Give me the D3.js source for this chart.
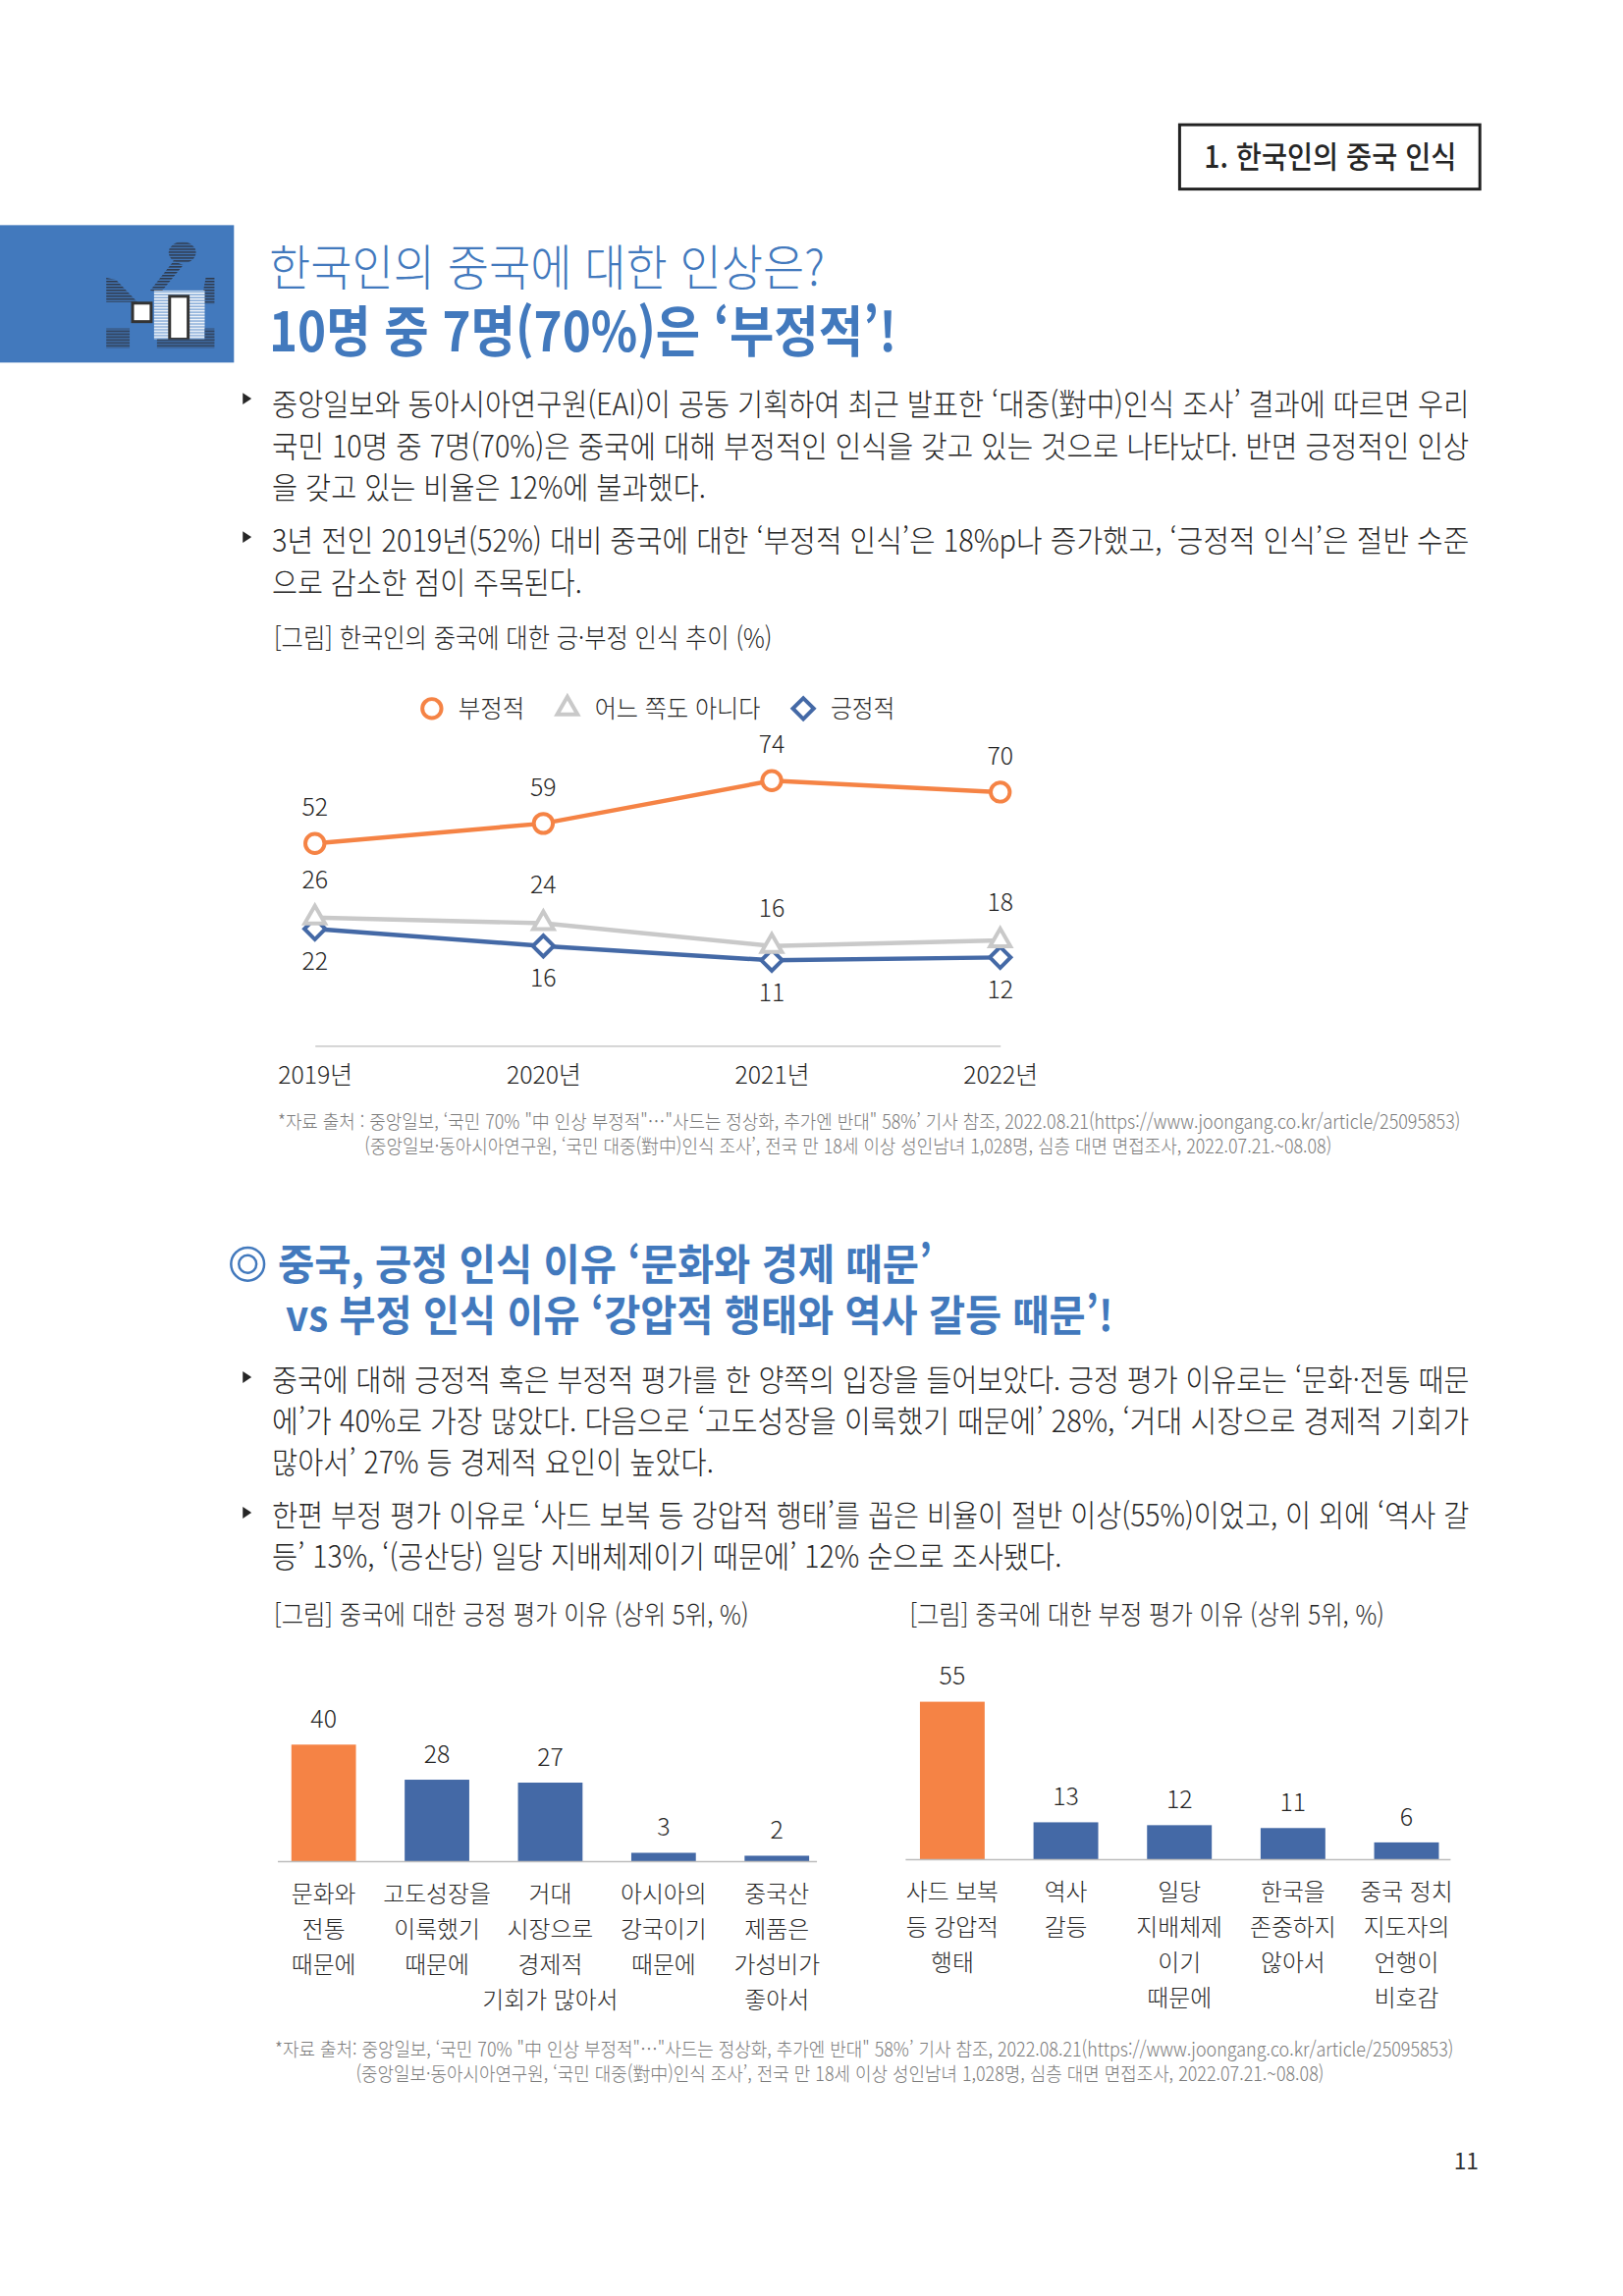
<![CDATA[<!DOCTYPE html>
<html lang="ko">
<head>
  <meta charset="UTF-8" />
  <script src="https://d3js.org/d3.v7.min.js"></script>
  <style>
    html, body { margin: 0; padding: 0; background: #fff; }
    svg { display: block; }
    text { font-family: "Noto Sans CJK KR", "Noto Sans", sans-serif; }
  </style>
</head>
<body>
  <div id="scene"></div>

  <script>
    // line chart data
    const years = ["2019년", "2020년", "2021년", "2022년"];
    const negative = [52, 59, 74, 70];
    const neutral = [26, 24, 16, 18];
    const positive = [22, 16, 11, 12];
    const legendLabels = ["부정적", "어느 쪽도 아니다", "긍정적"];

    // bar chart data
    const posReasons = [["문화와", "전통", "때문에"], ["고도성장을", "이룩했기", "때문에"], ["거대", "시장으로", "경제적", "기회가 많아서"], ["아시아의", "강국이기", "때문에"], ["중국산", "제품은", "가성비가", "좋아서"]];
    const posValues = [40, 28, 27, 3, 2];
    const negReasons = [["사드 보복", "등 강압적", "행태"], ["역사", "갈등"], ["일당", "지배체제", "이기", "때문에"], ["한국을", "존중하지", "않아서"], ["중국 정치", "지도자의", "언행이", "비호감"]];
    const negValues = [55, 13, 12, 11, 6];

    const ORANGE = "#f58345", GRAY = "#c9c9c9", BLUE = "#4469a6", TITLE = "#4279bd", INK = "#262626", NOTE = "#7a7a7a";

    const root = d3.select("#scene").append("svg").attr("width", 1653).attr("height", 2339);
    const svg = root.append("g").attr("transform", "scale(0.9929)");

    // one line of page text, squeezed to the width it has in the original
    function put(str, x, y, width, size, opts = {}) {
      const t = svg.append("text")
        .attr("x", x).attr("y", y)
        .attr("font-size", size)
        .attr("font-weight", opts.weight || 300)
        .attr("fill", opts.fill || INK)
        .attr("text-anchor", opts.anchor || "start")
        .text(str);
      if (width) t.attr("textLength", width).attr("lengthAdjust", "spacingAndGlyphs");
      return t;
    }

    function bullet(y) {
      svg.append("path").attr("d", d3.line()([[249, y - 6], [258, y], [249, y + 6]]) + "Z").attr("fill", INK);
    }

    // header
    svg.append("rect").attr("x", 1210).attr("y", 128).attr("width", 308).attr("height", 66)
      .attr("fill", "#fff").attr("stroke", "#222").attr("stroke-width", 3);
    put("1. 한국인의 중국 인식", 1235, 172, 259, 31, { weight: 500 });

    // blue tile + little icon
    svg.append("rect").attr("x", 0).attr("y", 231).attr("width", 240).attr("height", 141).attr("fill", TITLE);
    const defs = root.append("defs");
    const stripes = (id, c1, c2) => {
      const p = defs.append("pattern").attr("id", id).attr("width", 4).attr("height", 3).attr("patternUnits", "userSpaceOnUse");
      p.append("rect").attr("width", 4).attr("height", 3).attr("fill", c2);
      p.append("rect").attr("width", 4).attr("height", 1.6).attr("fill", c1);
    };
    stripes("darkS", "#2f3a4c", "#4279bd");
    stripes("lightS", "#ffffff", "#6f9bd0");
    svg.append("ellipse").attr("cx", 187).attr("cy", 259).attr("rx", 14).attr("ry", 11).attr("fill", "url(#darkS)");
    svg.append("path").attr("d", "M178,268 L188,272 L165,300 L154,298Z").attr("fill", "url(#darkS)");
    svg.append("path").attr("d", "M109,285 L119,287 L141,310 L109,310Z").attr("fill", "url(#darkS)");
    svg.append("path").attr("d", "M211,285 L220,284 L220,312 L206,312Z").attr("fill", "url(#darkS)");
    svg.append("rect").attr("x", 158).attr("y", 298).attr("width", 52).attr("height", 50).attr("fill", "url(#lightS)");
    svg.append("rect").attr("x", 174).attr("y", 304).attr("width", 19).attr("height", 44).attr("fill", "#fff").attr("stroke", "#333").attr("stroke-width", 3);
    svg.append("rect").attr("x", 136).attr("y", 311).attr("width", 19).attr("height", 19).attr("fill", "#fff").attr("stroke", "#333").attr("stroke-width", 3);
    svg.append("rect").attr("x", 109).attr("y", 337).attr("width", 24).attr("height", 20).attr("fill", "url(#darkS)");
    svg.append("rect").attr("x", 161).attr("y", 348).attr("width", 59).attr("height", 9).attr("fill", "url(#darkS)");
    svg.append("rect").attr("x", 210).attr("y", 337).attr("width", 10).attr("height", 12).attr("fill", "url(#darkS)");

    // titles
    put("한국인의 중국에 대한 인상은?", 276, 293, 570, 50, { fill: TITLE });
    put("10명 중 7명(70%)은 ‘부정적’!", 276, 361, 644, 56, { fill: TITLE, weight: 700 });

    // first text block
    bullet(409);
    put("중앙일보와 동아시아연구원(EAI)이 공동 기획하여 최근 발표한 ‘대중(對中)인식 조사’ 결과에 따르면 우리", 279, 426, 1228, 31);
    put("국민 10명 중 7명(70%)은 중국에 대해 부정적인 인식을 갖고 있는 것으로 나타났다. 반면 긍정적인 인상", 279, 469, 1228, 31);
    put("을 갖고 있는 비율은 12%에 불과했다.", 279, 512, 445, 31);
    bullet(551);
    put("3년 전인 2019년(52%) 대비 중국에 대한 ‘부정적 인식’은 18%p나 증가했고, ‘긍정적 인식’은 절반 수준", 279, 566, 1228, 31);
    put("으로 감소한 점이 주목된다.", 279, 609, 318, 31);
    put("[그림] 한국인의 중국에 대한 긍·부정 인식 추이 (%)", 281, 665, 511, 27);

    // line chart
    const x = d3.scalePoint().domain(years).range([323, 1026]);
    const y = d3.scaleLinear().domain([-19, 74]).range([1073, 801]);
    const lineGen = d3.line().x((d, i) => x(years[i])).y(d => y(d));

    const axisG = svg.append("g").attr("transform", "translate(0,1073)")
      .call(d3.axisBottom(x).tickSize(0).tickPadding(21));
    axisG.select(".domain").attr("stroke", "#bdbdbd").attr("stroke-width", 1.5);
    axisG.selectAll("text").attr("font-size", 25).attr("font-weight", 300).attr("fill", INK)
      .attr("font-family", '"Noto Sans CJK KR", sans-serif');

    const sym = (type, size) => d3.symbol().type(type).size(size)();
    const series = [
      { name: legendLabels[0], vals: negative, color: ORANGE, shape: sym(d3.symbolCircle, 300), rot: 0, label: -37 },
      { name: legendLabels[2], vals: positive, color: BLUE, shape: sym(d3.symbolSquare, 230), rot: 45, label: 33 },
      { name: legendLabels[1], vals: neutral, color: GRAY, shape: sym(d3.symbolTriangle, 190), rot: 0, label: -39 }
    ];

    series.forEach(s => {
      svg.append("path").datum(s.vals).attr("d", lineGen)
        .attr("fill", "none").attr("stroke", s.color).attr("stroke-width", 4.5);
      svg.append("g").selectAll("path").data(s.vals).enter().append("path")
        .attr("d", s.shape)
        .attr("transform", (d, i) => `translate(${x(years[i])},${y(d)}) rotate(${s.rot})`)
        .attr("fill", "#fff").attr("stroke", s.color).attr("stroke-width", 4);
      svg.append("g").selectAll("text").data(s.vals).enter().append("text")
        .attr("x", (d, i) => x(years[i]))
        .attr("y", d => y(d) + s.label)
        .attr("dy", "0.35em")
        .attr("text-anchor", "middle").attr("font-size", 25).attr("font-weight", 300).attr("fill", INK)
        .text(d => d);
    });

    // legend
    const legendItems = [
      { s: series[0], mx: 443, tx: 470, w: 68 },
      { s: series[2], mx: 582, tx: 610, w: 170 },
      { s: series[1], mx: 824, tx: 852, w: 66 }
    ];
    legendItems.forEach(it => {
      svg.append("path").attr("d", it.s.shape)
        .attr("transform", `translate(${it.mx},727) rotate(${it.s.rot})`)
        .attr("fill", "#fff").attr("stroke", it.s.color).attr("stroke-width", 4);
      put(it.s.name, it.tx, 736, it.w, 25, { weight: 300 });
    });

    // first source note
    put("*자료 출처 : 중앙일보, ‘국민 70% \"中 인상 부정적\"…\"사드는 정상화, 추가엔 반대\" 58%’ 기사 참조, 2022.08.21(https://www.joongang.co.kr/article/25095853)", 285, 1158, 1213, 20, { fill: NOTE });
    put("(중앙일보·동아시아연구원, ‘국민 대중(對中)인식 조사’, 전국 만 18세 이상 성인남녀 1,028명, 심층 대면 면접조사, 2022.07.21.~08.08)", 374, 1183, 992, 20, { fill: NOTE });

    // section heading
    svg.append("circle").attr("cx", 254).attr("cy", 1297).attr("r", 17).attr("fill", "none").attr("stroke", TITLE).attr("stroke-width", 2.5);
    svg.append("circle").attr("cx", 254).attr("cy", 1297).attr("r", 9).attr("fill", "none").attr("stroke", TITLE).attr("stroke-width", 2.5);
    put("중국, 긍정 인식 이유 ‘문화와 경제 때문’", 285, 1313, 671, 44, { fill: TITLE, weight: 700 });
    put("vs 부정 인식 이유 ‘강압적 행태와 역사 갈등 때문’!", 293, 1366, 849, 44, { fill: TITLE, weight: 700 });

    // second text block
    bullet(1413);
    put("중국에 대해 긍정적 혹은 부정적 평가를 한 양쪽의 입장을 들어보았다. 긍정 평가 이유로는 ‘문화·전통 때문", 279, 1427, 1228, 31);
    put("에’가 40%로 가장 많았다. 다음으로 ‘고도성장을 이룩했기 때문에’ 28%, ‘거대 시장으로 경제적 기회가", 279, 1469, 1228, 31);
    put("많아서’ 27% 등 경제적 요인이 높았다.", 279, 1512, 453, 31);
    bullet(1552);
    put("한편 부정 평가 이유로 ‘사드 보복 등 강압적 행태’를 꼽은 비율이 절반 이상(55%)이었고, 이 외에 ‘역사 갈", 279, 1566, 1228, 31);
    put("등’ 13%, ‘(공산당) 일당 지배체제이기 때문에’ 12% 순으로 조사됐다.", 279, 1608, 810, 31);
    put("[그림] 중국에 대한 긍정 평가 이유 (상위 5위, %)", 281, 1667, 487, 27);
    put("[그림] 중국에 대한 부정 평가 이유 (상위 5위, %)", 933, 1667, 487, 27);

    // bar charts
    function barChart(reasons, values, opt) {
      const bx = d3.scaleBand().domain(d3.range(values.length)).range(opt.xRange).paddingInner(0.43).paddingOuter(0.215);
      const by = d3.scaleLinear().domain([0, d3.max(values)]).range(opt.yRange);
      const g = svg.append("g");
      g.selectAll("rect").data(values).enter().append("rect")
        .attr("x", (d, i) => bx(i)).attr("width", bx.bandwidth())
        .attr("y", d => by(d)).attr("height", d => by(0) - by(d))
        .attr("fill", (d, i) => i === 0 ? ORANGE : BLUE);
      g.append("line").attr("x1", opt.axis[0]).attr("x2", opt.axis[1]).attr("y1", by(0)).attr("y2", by(0))
        .attr("stroke", "#bdbdbd").attr("stroke-width", 1.5);
      g.selectAll(".val").data(values).enter().append("text").attr("class", "val")
        .attr("x", (d, i) => bx(i) + bx.bandwidth() / 2).attr("y", d => by(d) - 15)
        .attr("dy", "-0.1em")
        .attr("text-anchor", "middle").attr("font-size", 25).attr("font-weight", 300).attr("fill", INK)
        .text(d => d);
      reasons.forEach((lines, i) => {
        lines.forEach((str, k) => {
          g.append("text")
            .attr("x", bx(i) + bx.bandwidth() / 2)
            .attr("y", opt.labelY + k * 36.3)
            .attr("text-anchor", "middle").attr("font-size", 24).attr("font-weight", 300).attr("fill", INK)
            .text(str);
        });
      });
    }

    barChart(posReasons, posValues, { xRange: [273.9, 855], yRange: [1910, 1790], axis: [285, 838], labelY: 1952 });
    barChart(negReasons, negValues, { xRange: [918.6, 1501], yRange: [1908, 1746], axis: [929, 1488], labelY: 1950 });

    // second source note
    put("*자료 출처: 중앙일보, ‘국민 70% \"中 인상 부정적\"…\"사드는 정상화, 추가엔 반대\" 58%’ 기사 참조, 2022.08.21(https://www.joongang.co.kr/article/25095853)", 282, 2110, 1209, 20, { fill: NOTE });
    put("(중앙일보·동아시아연구원, ‘국민 대중(對中)인식 조사’, 전국 만 18세 이상 성인남녀 1,028명, 심층 대면 면접조사, 2022.07.21.~08.08)", 365, 2135, 993, 20, { fill: NOTE });

    // page number
    put("11", 1504, 2226, null, 23, { anchor: "middle", fill: "#333", weight: 400 });
  </script>
</body>
</html>
]]>
